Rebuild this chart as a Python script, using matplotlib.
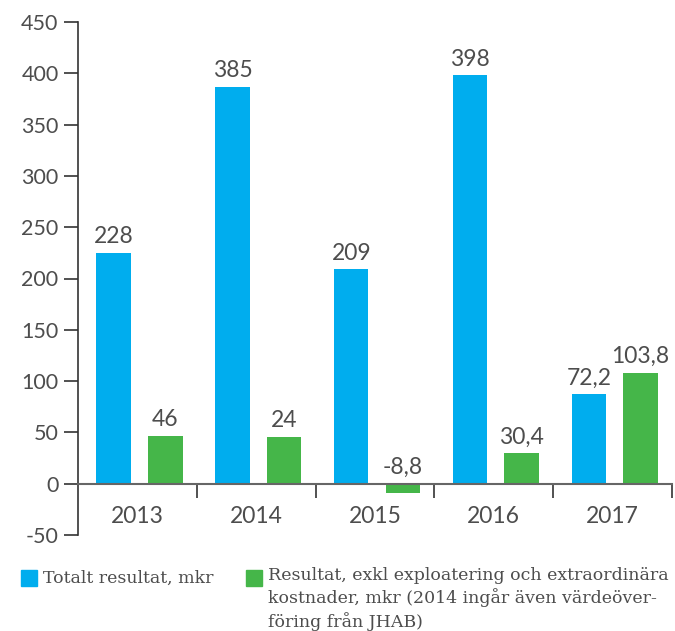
import matplotlib.pyplot as plt

years = ['2013', '2014', '2015', '2016', '2017']
totalt = [225, 387, 209, 398, 87]
totalt_labels = ['228', '385', '209', '398', '72,2']
exkl = [46.5, 45.5, -9.4, 30, 108]
exkl_labels = ['46', '24', '-8,8', '30,4', '103,8']

blue = '#00adee'
green = '#45b649'
txt = '#4d4d4d'
font = 'Lato'

fig = plt.figure(figsize=(6.75, 6.31), dpi=100)
ax = fig.add_axes([78 / 675, 1 - 535 / 631, 594 / 675, 513 / 631])

centers = [i + 0.5 for i in range(len(years))]
bw = 0.29
x_blue = [c - 0.2 for c in centers]
x_green = [c + 0.235 for c in centers]
ax.bar(x_blue, totalt, width=bw, color=blue, zorder=2)
ax.bar(x_green, exkl, width=bw, color=green, zorder=2)

for x, v, lab in zip(x_blue, totalt, totalt_labels):
    ax.annotate(lab, (x, max(v, 0)), xytext=(0, 4), textcoords='offset points',
                ha='center', va='bottom', fontsize=16.5, color=txt, family=font)
for x, v, lab in zip(x_green, exkl, exkl_labels):
    ax.annotate(lab, (x, max(v, 0)), xytext=(0, 4), textcoords='offset points',
                ha='center', va='bottom', fontsize=16.5, color=txt, family=font)

ax.set_xlim(0, 5)
ax.set_ylim(-50, 450)
ax.set_yticks(range(-50, 451, 50))
ax.set_yticklabels([str(v) for v in range(-50, 451, 50)], fontsize=15.5, color=txt, family=font)
ax.tick_params(axis='y', length=10, width=1.2, color='#333333', pad=4)

ax.spines['top'].set_visible(False)
ax.spines['right'].set_visible(False)
ax.spines['left'].set_color('#333333')
ax.spines['left'].set_linewidth(1.2)
ax.spines['bottom'].set_position(('data', 0))
ax.spines['bottom'].set_color('#666666')
ax.spines['bottom'].set_linewidth(1.5)
ax.spines['bottom'].set_zorder(3)

ax.set_xticks([1, 2, 3, 4, 5])
ax.set_xticklabels([])
ax.set_xticks(centers, minor=True)
ax.set_xticklabels(years, minor=True, fontsize=16.5, color=txt, family=font)
ax.tick_params(axis='x', which='major', length=10, width=1.2, color='#333333')
ax.tick_params(axis='x', which='minor', length=0, pad=16)

# legend
fig.patches.append(plt.Rectangle((21 / 675, 1 - 586 / 631), 16 / 675, 16 / 631,
                                 color=blue, transform=fig.transFigure))
fig.patches.append(plt.Rectangle((246 / 675, 1 - 586 / 631), 16 / 675, 16 / 631,
                                 color=green, transform=fig.transFigure))
fig.text(43 / 675, 1 - 578 / 631, 'Totalt resultat, mkr', fontsize=12.5,
         color=txt, family='DejaVu Serif', va='center')
fig.text(268 / 675, 1 - 567 / 631,
         'Resultat, exkl exploatering och extraordinära\n'
         'kostnader, mkr (2014 ingår även värdeöver-\n'
         'föring från JHAB)',
         fontsize=12.5, color=txt, family='DejaVu Serif', va='top', linespacing=1.3)

fig.savefig('out.png', dpi=100)
